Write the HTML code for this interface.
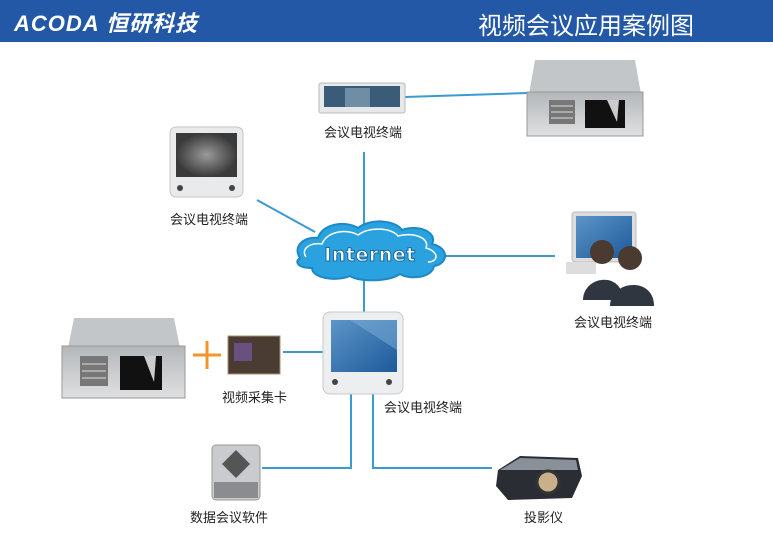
<!DOCTYPE html>
<html><head><meta charset="utf-8"><style>
html,body{margin:0;padding:0;background:#fff;}
body{width:773px;height:537px;overflow:hidden;position:relative;font-family:"Liberation Sans","Noto Sans CJK SC",sans-serif;}
.hdr{position:absolute;left:0;top:0;width:773px;height:42px;background:#2358a6;}
.logo{position:absolute;left:14px;top:6px;color:#fff;font-weight:bold;font-style:italic;font-size:22px;letter-spacing:1px;}
.title{position:absolute;left:478px;top:6px;color:#fff;font-size:24px;}
.lbl{position:absolute;font-size:13px;color:#222;white-space:nowrap;}
svg{position:absolute;left:0;top:0;}
</style></head><body>
<div class="hdr"><div class="logo">ACODA 恒研科技</div><div class="title">视频会议应用案例图</div></div>
<svg width="773" height="537" viewBox="0 0 773 537">
<defs>
<linearGradient id="srv" x1="0" y1="0" x2="0" y2="1"><stop offset="0" stop-color="#b4b7ba"/><stop offset="1" stop-color="#dfe0e2"/></linearGradient>
<linearGradient id="scr" x1="0" y1="0" x2="1" y2="1"><stop offset="0" stop-color="#5d95c8"/><stop offset="1" stop-color="#1c5a9a"/></linearGradient>
<radialGradient id="gscr"><stop offset="0" stop-color="#9a9a9a"/><stop offset="1" stop-color="#3a3a3a"/></radialGradient>
</defs>
<g stroke="#3a9ad2" stroke-width="2" fill="none">
<line x1="364" y1="152" x2="364" y2="224"/>
<line x1="364" y1="274" x2="364" y2="312"/>
<line x1="405" y1="97" x2="527" y2="93"/>
<line x1="257" y1="200" x2="315" y2="232"/>
<line x1="445" y1="256" x2="555" y2="256"/>
<line x1="283" y1="352" x2="323" y2="352"/>
<polyline points="351,394 351,468 262,468"/>
<polyline points="373,394 373,468 492,468"/>
</g>
<g>
<path d="M300,258 C292,246 305,236 318,238 C322,224 345,220 358,228 C370,218 395,220 402,230 C418,224 438,232 432,244 C450,248 448,264 434,266 C432,278 410,280 400,274 C388,282 360,282 350,276 C336,282 312,278 312,268 C298,268 294,262 300,258 Z" fill="#2aa2e0" stroke="#1d88c8" stroke-width="2"/>
<path d="M306,257 C300,248 312,242 322,244 C326,232 346,228 358,235 C370,226 392,228 398,236 C414,232 430,238 426,248 C440,252 438,262 428,262" fill="none" stroke="#fff" stroke-width="1.5"/>
<text x="370" y="261" text-anchor="middle" font-family="DejaVu Sans" font-weight="bold" font-size="19" fill="#fff" stroke="#1a6aa0" stroke-width="1" letter-spacing="0.5">Internet</text>
</g>
<rect x="319" y="83" width="86" height="30" rx="2" fill="#e6e8ea" stroke="#bbb"/>
<rect x="324" y="86" width="76" height="21" fill="#3b5c78"/>
<rect x="345" y="88" width="25" height="19" fill="#6f8da5"/>
<g transform="translate(527,60)">
<path d="M8,0 L108,0 L114,34 L2,34 Z" fill="#c3c6c8"/>
<rect x="0" y="32" width="116" height="44" fill="url(#srv)" stroke="#999"/>
<rect x="22" y="40" width="26" height="24" fill="#777"/>
<g stroke="#ddd" stroke-width="1"><line x1="24" y1="46" x2="46" y2="46"/><line x1="24" y1="52" x2="46" y2="52"/><line x1="24" y1="58" x2="46" y2="58"/></g>
<path d="M58,40 L98,40 L98,68 L58,68 Z" fill="#111"/>
<path d="M80,40 L92,40 L90,62 Z" fill="#ccc"/>
</g>
<rect x="170" y="127" width="73" height="70" rx="6" fill="#e9eaec" stroke="#c5c5c5"/>
<rect x="176" y="133" width="61" height="44" fill="url(#gscr)"/>
<circle cx="180" cy="188" r="3" fill="#444"/><circle cx="232" cy="188" r="3" fill="#444"/>
<rect x="572" y="212" width="64" height="50" rx="3" fill="#ddd" stroke="#bbb"/>
<rect x="576" y="216" width="56" height="42" fill="url(#scr)"/>
<rect x="566" y="262" width="30" height="12" fill="#ddd"/>
<circle cx="602" cy="252" r="12" fill="#4a3a30"/>
<path d="M583,300 C583,276 622,270 623,300 Z" fill="#2f3640"/>
<circle cx="630" cy="258" r="12" fill="#4a3a30"/>
<path d="M610,306 C610,280 654,276 654,306 Z" fill="#2f3640"/>
<g transform="translate(62,318)">
<path d="M12,0 L112,0 L118,30 L6,30 Z" fill="#c3c6c8"/>
<rect x="0" y="28" width="123" height="52" fill="url(#srv)" stroke="#999"/>
<rect x="18" y="38" width="28" height="30" fill="#777"/>
<g stroke="#ddd" stroke-width="1"><line x1="20" y1="46" x2="44" y2="46"/><line x1="20" y1="53" x2="44" y2="53"/><line x1="20" y1="60" x2="44" y2="60"/></g>
<path d="M58,38 L100,38 L100,72 L58,72 Z" fill="#111"/>
<path d="M82,38 L94,38 L92,64 Z" fill="#ccc"/>
</g>
<g stroke="#f0962a" stroke-width="3"><line x1="193" y1="355" x2="221" y2="355"/><line x1="207" y1="341" x2="207" y2="369"/></g>
<rect x="228" y="336" width="52" height="38" fill="#4a3c32" stroke="#a89070"/>
<rect x="234" y="343" width="18" height="18" fill="#6a5080"/>
<rect x="323" y="312" width="80" height="82" rx="7" fill="#eceef0" stroke="#c8c8c8"/>
<rect x="331" y="320" width="66" height="52" fill="url(#scr)"/>
<path d="M350,320 L397,320 L397,350 Z" fill="#7fb0da" opacity="0.5"/>
<circle cx="335" cy="382" r="3" fill="#444"/><circle cx="389" cy="382" r="3" fill="#444"/>
<rect x="212" y="445" width="48" height="55" rx="4" fill="#c9cbce" stroke="#999"/>
<path d="M236,450 L250,464 L236,478 L222,464 Z" fill="#555"/>
<rect x="214" y="482" width="44" height="16" fill="#8a8c90"/>
<path d="M498,470 L520,456 L578,458 L582,476 L572,498 L508,500 L496,486 Z" fill="#2a2e34"/>
<path d="M500,470 L520,458 L576,460 L578,470 Z" fill="#8a9098"/>
<circle cx="548" cy="482" r="11" fill="#c8b08a" stroke="#333" stroke-width="3"/>
</svg>
<div class="lbl" style="left:324px;top:122px;">会议电视终端</div>
<div class="lbl" style="left:170px;top:209px;">会议电视终端</div>
<div class="lbl" style="left:574px;top:312px;">会议电视终端</div>
<div class="lbl" style="left:222px;top:387px;">视频采集卡</div>
<div class="lbl" style="left:384px;top:397px;">会议电视终端</div>
<div class="lbl" style="left:190px;top:507px;">数据会议软件</div>
<div class="lbl" style="left:524px;top:507px;">投影仪</div>
</body></html>
